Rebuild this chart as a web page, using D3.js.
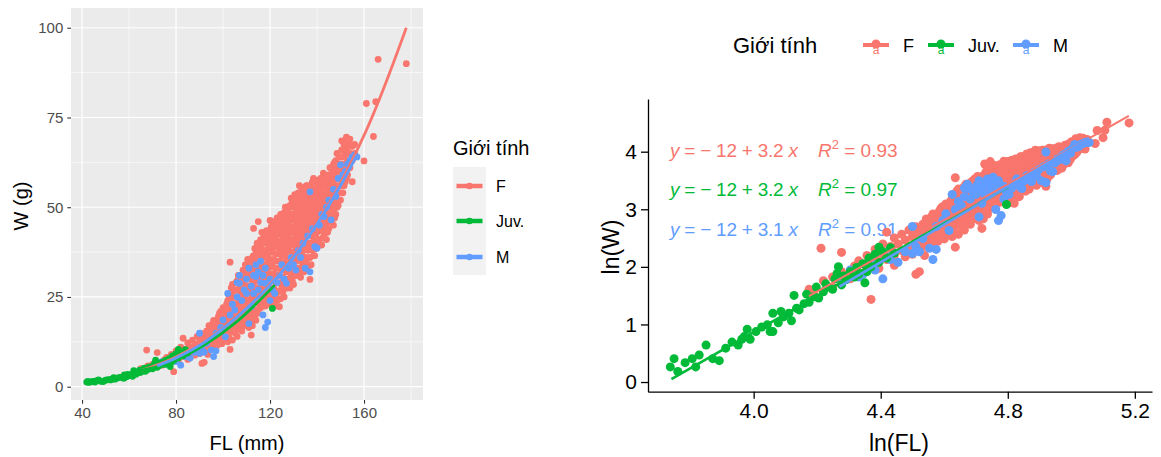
<!DOCTYPE html>
<html><head><meta charset="utf-8">
<script src="https://cdn.jsdelivr.net/npm/d3@7"></script>
<style>body{margin:0;background:#fff;} svg{display:block;font-family:"Liberation Sans",Arial,sans-serif;}</style>
</head><body><svg id="c" width="1161" height="457"></svg>
<script>
// ---------------- DATA ----------------
const groups = ["F", "Juv.", "M"];
const groupColors = ["#F8766D", "#00BA38", "#619CFF"];
const legendTitle = "Giới tính";

// [FL (mm), W (g)]
const femalePts = [
[65,5.0],[66,4.6],[67.5,10.2],[68,5.8],[70,6.2],[70,5.2],[72,9.5],[72,6.8],[74,6.0],[75,7.5],[76,8.2],[77,6.6],[78,9.0],[78,7.2],[79,4.2],[80,8.0],[80,10.0],[81,7.2],[82,9.2],[82,11.0],[83,13.5],[83,8.4],[84,10.5],[85,9.0],[85,12.2],[85,7.6],[86,11.0],[87,9.8],[87,13.0],[88,8.8],[88,11.8],[89,10.5],[89,14.0],[90,12.5],[90,9.2],
[91,6.5],[91,11.2],[91,14.8],[92,13.0],[92,9.8],[92,6.8],[93,12.0],[93,15.5],[94,10.5],[94,14.0],[94,17.0],[95,12.8],[95,16.0],[96,11.5],[96,14.5],[96,18.5],[97,13.5],[97,16.8],[98,12.2],[98,15.5],[98,19.5],[99,14.5],[99,17.5],[99,21.0],
[90.5,10.8],[90.5,13.5],[92.5,11.0],[92.5,14.2],[93.5,9.0],[93.5,13.8],[94.5,12.0],[94.5,15.5],[95.5,10.5],[95.5,14.2],[95.5,17.5],[96.5,13.0],[96.5,16.2],[97.5,11.5],[97.5,15.0],[97.5,18.0],[98.5,13.8],[98.5,17.0],[98.5,20.5],[99.5,12.0],[99.5,16.0],[99.5,19.0],
[100,13.0],[100,16.5],[100,19.0],[100,22.0],[101,15.0],[101,18.0],[101,21.5],[102,12.5],[102,17.0],[102,20.0],[102,24.0],[103,10.4],[103,34.7],[103,15.5],[103,19.0],[103,23.0],[104,13.0],[104,17.5],[104,21.0],[104,25.5],[104,28.5],[105,15.0],[105,19.5],[105,23.0],[105,27.0],[106,14.0],[106,18.0],[106,21.5],[106,25.0],[106,29.5],[107,16.5],[107,20.0],[107,24.0],[107,27.5],[107,31.0],[108,15.5],[108,19.5],[108,23.0],[108,26.5],[108,30.0],[109,17.0],[109,21.0],[109,25.0],[109,28.5],[109,32.0],[110,18.0],[110,22.5],[110,26.0],[110,30.0],[110,33.5],
[100.5,14.8],[100.5,17.8],[100.5,20.5],[101.5,13.5],[101.5,16.5],[101.5,19.5],[101.5,23.0],[102.5,14.0],[102.5,18.5],[102.5,21.5],[102.5,25.5],[103.5,17.0],[103.5,21.0],[103.5,24.5],[103.5,27.5],[104.5,15.5],[104.5,19.0],[104.5,23.0],[104.5,27.0],[105.5,17.0],[105.5,21.0],[105.5,25.0],[105.5,29.0],[106.5,16.0],[106.5,19.5],[106.5,23.5],[106.5,27.0],[106.5,31.0],[107.5,18.0],[107.5,22.0],[107.5,25.5],[107.5,29.5],[108.5,17.5],[108.5,21.0],[108.5,25.0],[108.5,28.5],[108.5,32.5],[109.5,19.0],[109.5,23.0],[109.5,27.0],[109.5,30.5],[109.5,34.0],[110.5,20.0],[110.5,24.0],[110.5,28.0],[110.5,32.0],[110.5,35.5],
[111,16.5],[111,20.0],[111,24.0],[111,28.0],[111,31.5],[111,35.0],[112,14.4],[112,19.0],[112,23.0],[112,26.5],[112,30.5],[112,34.0],[113,44.1],[113,21.5],[113,25.0],[113,29.0],[113,33.0],[113,36.5],[114,18.5],[114,23.5],[114,27.5],[114,31.0],[114,35.0],[114,38.0],[115,46.0],[115,20.5],[115,25.5],[115,29.5],[115,33.5],[115,37.0],[116,22.0],[116,26.5],[116,30.5],[116,34.5],[116,38.5],[116,41.0],[117,24.0],[117,28.0],[117,32.0],[117,36.0],[117,40.0],[118,22.5],[118,26.0],[118,30.0],[118,34.0],[118,38.0],[118,41.5],[119,25.0],[119,29.0],[119,33.0],[119,37.0],[119,40.5],[119,43.0],[120,46.3],[120,23.0],[120,27.5],[120,31.5],[120,35.5],[120,39.0],[120,42.0],
[111.5,18.0],[111.5,22.0],[111.5,26.0],[111.5,30.0],[111.5,33.5],[112.5,17.0],[112.5,21.0],[112.5,25.0],[112.5,28.5],[112.5,32.5],[112.5,36.0],[113.5,19.5],[113.5,23.5],[113.5,27.0],[113.5,31.0],[113.5,35.0],[113.5,38.5],[114.5,21.5],[114.5,25.5],[114.5,29.5],[114.5,33.0],[114.5,37.0],[114.5,40.0],[115.5,23.0],[115.5,27.5],[115.5,31.5],[115.5,35.5],[115.5,39.0],[116.5,24.5],[116.5,28.5],[116.5,32.5],[116.5,36.5],[116.5,40.0],[116.5,43.0],[117.5,22.5],[117.5,26.0],[117.5,30.0],[117.5,34.0],[117.5,38.0],[117.5,42.0],[118.5,24.0],[118.5,28.0],[118.5,32.0],[118.5,36.0],[118.5,40.0],[118.5,43.5],[119.5,23.5],[119.5,27.0],[119.5,31.0],[119.5,35.0],[119.5,39.0],[119.5,42.0],[120.5,25.5],[120.5,29.5],[120.5,33.5],[120.5,37.5],[120.5,41.0],[120.5,44.5],
[121,25.0],[121,29.5],[121,33.5],[121,37.5],[121,41.0],[121,44.0],[122,22.5],[122,27.0],[122,31.0],[122,35.0],[122,39.0],[122,42.5],[122,45.0],[123,24.0],[123,29.0],[123,33.0],[123,37.0],[123,40.5],[123,44.0],[123,47.0],[124,22.3],[124,26.5],[124,31.0],[124,35.0],[124,38.5],[124,42.5],[124,46.0],[125,28.0],[125,32.5],[125,36.5],[125,40.0],[125,43.5],[125,47.0],[126,25.0],[126,30.0],[126,34.5],[126,38.0],[126,41.5],[126,45.0],[126,48.5],[127,27.5],[127,32.0],[127,36.0],[127,39.5],[127,43.0],[127,46.5],[127,50.0],[128,29.5],[128,34.0],[128,38.0],[128,41.5],[128,45.0],[128,48.0],[129,31.0],[129,35.5],[129,39.5],[129,43.0],[129,46.5],[129,50.0],[129,52.5],[130,28.5],[130,33.0],[130,37.5],[130,41.0],[130,44.5],[130,48.0],[130,51.5],
[121.5,23.5],[121.5,27.5],[121.5,31.5],[121.5,35.5],[121.5,39.5],[121.5,43.0],[121.5,46.0],[122.5,25.0],[122.5,29.0],[122.5,33.0],[122.5,37.0],[122.5,41.0],[122.5,44.0],[123.5,26.5],[123.5,31.0],[123.5,35.0],[123.5,39.0],[123.5,42.5],[123.5,46.0],[124.5,24.5],[124.5,29.0],[124.5,33.0],[124.5,37.0],[124.5,40.5],[124.5,44.5],[124.5,48.0],[125.5,26.5],[125.5,30.5],[125.5,34.5],[125.5,38.5],[125.5,42.0],[125.5,45.5],[126.5,28.0],[126.5,32.5],[126.5,36.5],[126.5,40.0],[126.5,43.5],[126.5,47.0],[126.5,50.0],[127.5,30.0],[127.5,34.0],[127.5,38.0],[127.5,41.5],[127.5,45.0],[127.5,48.5],[128.5,27.5],[128.5,32.0],[128.5,36.0],[128.5,40.0],[128.5,43.5],[128.5,47.0],[128.5,50.5],[129.5,29.5],[129.5,33.5],[129.5,37.5],[129.5,41.0],[129.5,44.5],[129.5,48.0],[129.5,51.5],[130.5,31.0],[130.5,35.5],[130.5,39.5],[130.5,43.0],[130.5,46.5],[130.5,50.0],[130.5,53.5],
[131,31.0],[131,35.0],[131,39.0],[131,42.5],[131,46.0],[131,49.5],[131,53.0],[132,33.0],[132,37.0],[132,40.5],[132,44.0],[132,47.5],[132,51.0],[132,54.0],[133,30.5],[133,35.0],[133,39.0],[133,42.5],[133,46.0],[133,49.5],[133,52.5],[134,34.0],[134,38.0],[134,41.5],[134,45.0],[134,48.5],[134,52.0],[134,55.5],[135,36.0],[135,40.0],[135,43.5],[135,47.0],[135,50.5],[135,54.0],[136,33.0],[136,38.0],[136,42.0],[136,45.5],[136,49.0],[136,52.5],[136,56.0],[137,29.9],[137,36.0],[137,40.0],[137,44.0],[137,47.5],[137,51.0],[137,54.5],[138,38.0],[138,42.0],[138,46.0],[138,49.5],[138,53.0],[138,57.0],[139,36.5],[139,40.5],[139,44.5],[139,48.0],[139,51.5],[139,55.0],[140,39.0],[140,43.0],[140,47.0],[140,50.5],[140,54.0],[140,57.5],
[131.5,33.0],[131.5,37.0],[131.5,41.0],[131.5,44.5],[131.5,48.0],[131.5,51.5],[132.5,31.5],[132.5,35.5],[132.5,39.0],[132.5,42.5],[132.5,46.0],[132.5,49.5],[132.5,53.0],[132.5,56.0],[133.5,33.0],[133.5,37.0],[133.5,40.5],[133.5,44.0],[133.5,47.5],[133.5,51.0],[133.5,54.5],[134.5,32.0],[134.5,36.0],[134.5,40.0],[134.5,43.5],[134.5,47.0],[134.5,50.5],[134.5,54.0],[135.5,34.5],[135.5,38.5],[135.5,42.0],[135.5,45.5],[135.5,49.0],[135.5,52.5],[135.5,56.0],[136.5,36.0],[136.5,40.0],[136.5,44.0],[136.5,47.5],[136.5,51.0],[136.5,54.5],[137.5,34.0],[137.5,38.5],[137.5,42.5],[137.5,46.0],[137.5,49.5],[137.5,53.0],[137.5,56.0],[138.5,36.5],[138.5,40.5],[138.5,44.5],[138.5,48.0],[138.5,51.5],[138.5,55.0],[138.5,58.0],[139.5,38.5],[139.5,42.5],[139.5,46.5],[139.5,50.0],[139.5,53.5],[139.5,57.0],[140.5,41.0],[140.5,45.0],[140.5,49.0],[140.5,52.5],[140.5,56.0],
[141,41.0],[141,45.0],[141,49.0],[141,52.5],[141,56.0],[142,39.5],[142,43.5],[142,47.5],[142,51.0],[142,55.0],[142.7,59.5],[143,42.0],[143,46.0],[143,50.0],[143,53.5],[143,57.0],[144,41.0],[144,45.5],[144,49.5],[144,53.0],[144,56.5],[145,44.0],[145,48.0],[145,52.0],[145,56.0],[145,59.0],[146,46.0],[146,50.0],[146,54.0],[146,58.0],[146,61.0],[147,45.0],[147,49.0],[147,53.0],[147,57.0],[147,62.0],[148,48.0],[148,52.0],[148,56.0],[148,60.0],[148,63.0],[149,50.5],[149,54.0],[149,58.0],[149,62.0],[150,52.0],[150,56.0],[150,60.0],[150,64.0],[150.5,68.5],[151,54.0],[151,58.0],[151,62.0],[151,66.0],[152,68.0],[152,57.0],[152,61.0],[152,65.0],[152.5,69.5],[153,59.0],[153,63.0],[153,67.5],[154,61.0],[154,65.0],[154,69.0],[155,57.1],[155,63.0],[155,67.0],[156,65.0],[156,67.5],
[141.5,39.5],[141.5,43.5],[141.5,47.5],[141.5,51.0],[141.5,54.5],[141.5,58.0],[142.5,41.5],[142.5,45.5],[142.5,49.5],[142.5,53.0],[142.5,56.5],[143.5,44.0],[143.5,48.0],[143.5,52.0],[143.5,55.5],[143.5,58.5],[144.5,43.0],[144.5,47.0],[144.5,51.0],[144.5,55.0],[144.5,58.5],[145.5,46.0],[145.5,50.0],[145.5,54.0],[145.5,57.5],[145.5,61.0],[146.5,48.0],[146.5,52.0],[146.5,56.0],[146.5,59.5],[147.5,47.0],[147.5,51.0],[147.5,55.0],[147.5,59.0],[147.5,62.5],[148.5,50.0],[148.5,54.0],[148.5,58.0],[148.5,61.5],[148.5,65.0],[149.5,52.0],[149.5,56.0],[149.5,60.0],[149.5,64.0],[150.5,54.0],[150.5,58.0],[150.5,62.0],[150.5,66.0],[151.5,56.0],[151.5,60.0],[151.5,64.0],[151.5,67.5],[152.5,58.0],[152.5,62.0],[152.5,66.0],[153.5,61.0],[153.5,65.0],[153.5,68.5],[154.5,63.0],[154.5,67.0],
[160,62.9],[161,78.9],[164,69.7],[165,79.4],[166,91.2],[178,90.0]
];

const juvPts = [
[42,1.3],[42.5,1.5],[43,1.2],[44,1.4],[45,1.5],[45.5,1.3],[46,1.6],[47,1.9],[48,1.5],[49,1.45],[50,1.8],[51,2.0],[52,1.9],[52.6,2.1],[53,2.2],[53.5,2.5],[54,2.1],[55,2.4],[56,2.6],[57,2.7],[57.5,2.4],[58,3.3],[58,2.4],[59,2.8],[59.5,3.4],[60,3.1],[61,3.3],[61.5,2.9],[62,4.5],[62.5,3.6],[63,3.5],[64,3.9],[64.5,4.6],[65,4.0],[66,4.4],[66.5,5.2],[67,4.3],[68,4.8],[68.5,5.5],[69,5.2],[70,5.0],[70.5,6.0],[71,6.6],[71.3,7.4],[72,5.4],[72.5,6.3],[73,5.9],[74,6.8],[75,6.2],[75.5,7.3],[76,6.5],[77,7.8],[77.5,5.6],[78,6.8],[78.5,8.6],[79,7.4],[80,9.2],[81,10.4],[81,8.0],[82,9.6],[83,8.6],[84,10.3],[85,9.4],[121,21.8]
];

const malePts = [
[72,5.8],[74,7.0],[76,6.2],[77,6.5],[79,8.2],[80,7.0],[82,6.0],[83,9.0],[84,8.4],[86,8.0],[88,9.6],[90,9.3],[90,14.9],[91,10.5],[92,9.6],[93,12.1],[95,10.2],[96,8.4],[97,14.9],[97,10.0],[99,16.5],[100,18.6],[101,13.9],[102,26.0],[103,20.0],[104,23.0],[105,21.4],[106,25.0],[106,29.0],[107,28.8],[107,31.0],[108,24.0],[109,27.0],[110,26.0],[110,30.0],[111,17.6],[111,33.0],[112,22.3],[112,28.0],[113,31.0],[113,26.0],[114,30.7],[114,34.0],[115,27.0],[115,32.0],[116,29.0],[116,35.0],[117,31.0],[117,20.0],[118,16.5],[118,28.8],[118,33.0],[119,18.0],[120,24.0],[120,30.0],[121,27.0],[122,26.0],[123,29.0],[124,31.0],[125,34.0],[126,30.0],[127,28.8],[128,33.0],[129,36.0],[130,34.0],[131,32.5],[132,38.0],[133,36.0],[134,40.0],[135,33.0],[136,42.0],[137,32.0],[137,54.3],[138,44.0],[139,39.0],[140,38.6],[141,45.0],[142,48.0],[143,47.4],[144,50.0],[145,52.0],[146,46.5],[147,55.0],[148,53.0],[149,58.0],[150,61.8],[151,59.0],[152,60.0],[153,62.0],[154,63.0],[155,64.0],[156,64.6],[157,64.0]
];

// fitted curves, [FL, W]
const femaleFit = [[65,4.5],[80,8.3],[100,16.4],[120,28.6],[140,45.6],[160,70.0],[178,100.0]];
const juvFit    = [[42,1.2],[50,2.0],[63,4.2],[77,6.6],[92,11.6],[106,18.2],[122,28.3]];
const maleFit   = [[72,5.8],[80,8.0],[90,11.5],[100,16.2],[110,21.8],[120,28.3],[130,36.0],[140,45.3],[150,56.0],[157,64.5]];

// fitted straight lines, [ln(FL), ln(W)]
const femaleLnFit = [[4.174,1.49],[5.181,4.62]];
const juvLnFit    = [[3.741,0.05],[4.802,3.39]];
const maleLnFit   = [[4.27,1.655],[5.057,4.23]];

// regression labels
const eqLabels = [" = − 12 + 3.2 ", " = − 12 + 3.2 ", " = − 12 + 3.1 "];
const r2Labels = [" = 0.93", " = 0.97", " = 0.91"];

// ticks
const leftXTicks = [40, 80, 120, 160];
const leftYTicks = [0, 25, 50, 75, 100];
const leftXMinor = [60, 100, 140, 180];
const leftYMinor = [12.5, 37.5, 62.5, 87.5];
const rightXTicks = [4.0, 4.4, 4.8, 5.2];
const rightYTicks = [0, 1, 2, 3, 4];

// ---------------- DRAW ----------------
const svg = d3.select("#c");
const series = [femalePts, juvPts, malePts];
const drawOrder = [0, 2, 1]; // F, M, Juv.

// ===== LEFT PANEL =====
const L = {x0: 71, x1: 423, y0: 8, y1: 400};
const xL = d3.scaleLinear([35.3, 185.1], [L.x0, L.x1]);
const yL = d3.scaleLinear([-3.7, 105.5], [L.y1, L.y0]);
const gL = svg.append("g");
gL.append("rect").attr("x", L.x0).attr("y", L.y0).attr("width", L.x1 - L.x0).attr("height", L.y1 - L.y0).attr("fill", "#EBEBEB");
svg.append("clipPath").attr("id", "clipL").append("rect").attr("x", L.x0).attr("y", L.y0).attr("width", L.x1 - L.x0).attr("height", L.y1 - L.y0);

gL.selectAll(".mx").data(leftXMinor).join("line").attr("x1", d => xL(d)).attr("x2", d => xL(d)).attr("y1", L.y0).attr("y2", L.y1).attr("stroke", "#fff").attr("stroke-width", 0.6);
gL.selectAll(".my").data(leftYMinor).join("line").attr("y1", d => yL(d)).attr("y2", d => yL(d)).attr("x1", L.x0).attr("x2", L.x1).attr("stroke", "#fff").attr("stroke-width", 0.6);
gL.selectAll(".gx").data(leftXTicks).join("line").attr("x1", d => xL(d)).attr("x2", d => xL(d)).attr("y1", L.y0).attr("y2", L.y1).attr("stroke", "#fff").attr("stroke-width", 1.2);
gL.selectAll(".gy").data(leftYTicks).join("line").attr("y1", d => yL(d)).attr("y2", d => yL(d)).attr("x1", L.x0).attr("x2", L.x1).attr("stroke", "#fff").attr("stroke-width", 1.2);

const ptsL = gL.append("g").attr("clip-path", "url(#clipL)");
drawOrder.forEach(i => {
  ptsL.append("g").selectAll("circle").data(series[i]).join("circle")
    .attr("cx", d => xL(d[0])).attr("cy", d => yL(d[1])).attr("r", 3.4).attr("fill", groupColors[i]);
});
const lineL = d3.line().x(d => xL(d[0])).y(d => yL(d[1])).curve(d3.curveCatmullRom);
[femaleFit, juvFit, maleFit].forEach((f, i) => {
  ptsL.append("path").attr("d", lineL(f)).attr("fill", "none").attr("stroke", groupColors[i]).attr("stroke-width", 2.8).attr("stroke-linecap", "butt");
});

const axLx = gL.append("g").attr("transform", `translate(0,${L.y1})`)
  .call(d3.axisBottom(xL).tickValues(leftXTicks).tickSize(3.7).tickPadding(4));
const axLy = gL.append("g").attr("transform", `translate(${L.x0},0)`)
  .call(d3.axisLeft(yL).tickValues(leftYTicks).tickSize(3.7).tickPadding(4));
[axLx, axLy].forEach(a => {
  a.select(".domain").remove();
  a.selectAll(".tick line").attr("stroke", "#333333").attr("stroke-width", 1.1);
  a.selectAll(".tick text").attr("fill", "#4D4D4D").style("font-size", "15px").style("font-family", '"Liberation Sans",Arial,sans-serif');
});
gL.append("text").attr("x", 247).attr("y", 450).attr("text-anchor", "middle").style("font-size", "20px").text("FL (mm)");
gL.append("text").attr("transform", "translate(28,206) rotate(-90)").attr("text-anchor", "middle").style("font-size", "20px").text("W (g)");

// left legend
const lg = svg.append("g");
lg.append("text").attr("x", 453).attr("y", 155).style("font-size", "20px").text(legendTitle);
lg.append("rect").attr("x", 453).attr("y", 167).attr("width", 33).attr("height", 108).attr("fill", "#F2F2F2");
const keyYs = [186, 221, 257];
groups.forEach((g, i) => {
  lg.append("line").attr("x1", 456.5).attr("x2", 482.5).attr("y1", keyYs[i]).attr("y2", keyYs[i]).attr("stroke", groupColors[i]).attr("stroke-width", 4.5);
  lg.append("circle").attr("cx", 469.5).attr("cy", keyYs[i]).attr("r", 3.3).attr("fill", groupColors[i]);
  lg.append("text").attr("x", 496).attr("y", keyYs[i] + 5.5).style("font-size", "16px").text(g);
});

// ===== RIGHT PANEL =====
const R = {x0: 648, x1: 1152, y0: 99, y1: 391.7};
const xR = d3.scaleLinear([3.6674, 5.254], [R.x0, R.x1]);
const yR = d3.scaleLinear([-0.168, 4.915], [R.y1, R.y0]);
const gR = svg.append("g");

// regression labels (drawn beneath the points)
const eqYs = [157, 195.5, 235.5];
groups.forEach((g, i) => {
  const t1 = gR.append("text").attr("x", 670).attr("y", eqYs[i]).attr("fill", groupColors[i]).style("font-size", "19px")
    .attr("textLength", 128).attr("lengthAdjust", "spacing");
  t1.append("tspan").style("font-style", "italic").text("y");
  t1.append("tspan").text(eqLabels[i]);
  t1.append("tspan").style("font-style", "italic").text("x");
  const t2 = gR.append("text").attr("x", 818).attr("y", eqYs[i]).attr("fill", groupColors[i]).style("font-size", "19px");
  t2.append("tspan").style("font-style", "italic").text("R");
  t2.append("tspan").attr("dy", -8).style("font-size", "13px").text("2");
  t2.append("tspan").attr("dy", 8).text(r2Labels[i]);
});

drawOrder.forEach(i => {
  gR.append("g").selectAll("circle").data(series[i]).join("circle")
    .attr("cx", d => xR(Math.log(d[0]))).attr("cy", d => yR(Math.log(d[1]))).attr("r", 4.5).attr("fill", groupColors[i]);
});
const lineR = d3.line().x(d => xR(d[0])).y(d => yR(d[1]));
[femaleLnFit, juvLnFit, maleLnFit].forEach((f, i) => {
  gR.append("path").attr("d", lineR(f)).attr("fill", "none").attr("stroke", groupColors[i]).attr("stroke-width", i === 0 ? 2 : 2.6);
});

const axRx = gR.append("g").attr("transform", `translate(0,${R.y1})`)
  .call(d3.axisBottom(xR).tickValues(rightXTicks).tickFormat(d3.format(".1f")).tickSize(7).tickSizeOuter(0).tickPadding(4));
const axRy = gR.append("g").attr("transform", `translate(${R.x0},0)`)
  .call(d3.axisLeft(yR).tickValues(rightYTicks).tickFormat(d3.format("d")).tickSize(7).tickSizeOuter(0).tickPadding(4));
[axRx, axRy].forEach(a => {
  a.select(".domain").attr("stroke", "#000").attr("stroke-width", 1.3);
  a.selectAll(".tick line").attr("stroke", "#000").attr("stroke-width", 1.3);
  a.selectAll(".tick text").attr("fill", "#000").style("font-size", "21px").style("font-family", '"Liberation Sans",Arial,sans-serif');
});
gR.append("text").attr("x", 899).attr("y", 451).attr("text-anchor", "middle").style("font-size", "23px").text("ln(FL)");
gR.append("text").attr("transform", "translate(619,247) rotate(-90)").attr("text-anchor", "middle").style("font-size", "23px").text("ln(W)");

// right legend (top)
const rg = svg.append("g");
rg.append("text").attr("x", 733).attr("y", 53).style("font-size", "22px").text(legendTitle);
const keyX = [863, 928, 1013];
const labX = [903, 968, 1053];
groups.forEach((g, i) => {
  rg.append("line").attr("x1", keyX[i]).attr("x2", keyX[i] + 26).attr("y1", 45).attr("y2", 45).attr("stroke", groupColors[i]).attr("stroke-width", 4);
  rg.append("circle").attr("cx", keyX[i] + 13).attr("cy", 44).attr("r", 4.5).attr("fill", groupColors[i]);
  rg.append("text").attr("x", keyX[i] + 13).attr("y", 54).attr("text-anchor", "middle").attr("fill", groupColors[i]).style("font-size", "12px").text("a");
  rg.append("text").attr("x", labX[i]).attr("y", 52).style("font-size", "18px").text(g);
});
</script>
</body></html>
